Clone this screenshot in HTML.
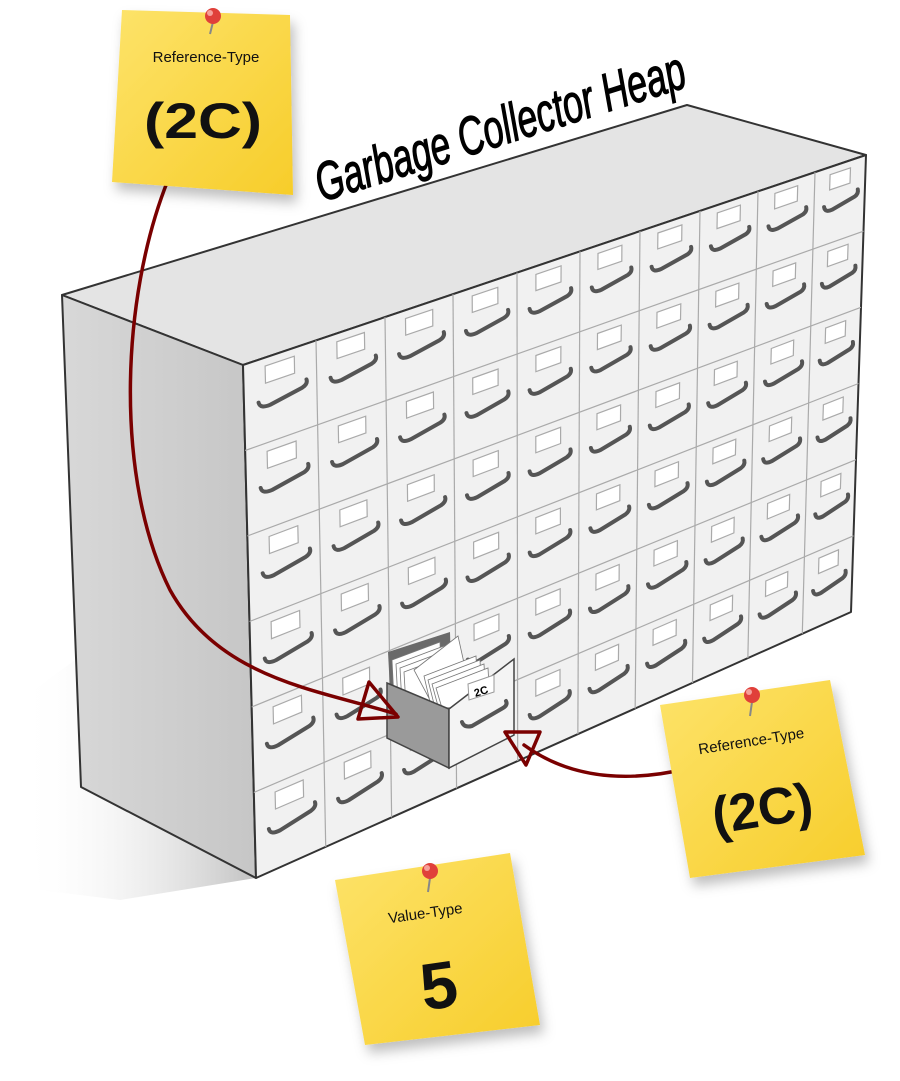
<!DOCTYPE html>
<html><head><meta charset="utf-8"><style>
html,body{margin:0;padding:0;background:#fff;}
svg{display:block;}
</style></head><body>
<svg id="s" width="900" height="1081" viewBox="0 0 900 1081" xmlns="http://www.w3.org/2000/svg">
<defs>
<linearGradient id="shadow" x1="1" y1="0" x2="0" y2="0">
<stop offset="0" stop-color="#bbb"/><stop offset="1" stop-color="#fff" stop-opacity="0"/>
</linearGradient>
<linearGradient id="note" x1="0" y1="0" x2="1" y2="1">
<stop offset="0" stop-color="#fde36a"/><stop offset="1" stop-color="#f7cd2a"/>
</linearGradient>
<linearGradient id="side" x1="0" y1="0" x2="1" y2="0">
<stop offset="0" stop-color="#d8d8d8"/><stop offset="1" stop-color="#c6c6c6"/>
</linearGradient>
<filter id="ns" x="-20%" y="-20%" width="150%" height="150%"><feDropShadow dx="4" dy="8" stdDeviation="6" flood-color="#000" flood-opacity="0.25"/></filter>
</defs>
<polygon points="20,700 75,660 256,878 120,900 40,890" fill="url(#shadow)" opacity="0.9"/>
<polygon points="62,295 687,105 866,155 243,365" fill="#e4e4e4" stroke="#333" stroke-width="2" stroke-linejoin="round"/>
<polygon points="62,295 243,365 256,878 81,787" fill="url(#side)" stroke="#333" stroke-width="2" stroke-linejoin="round"/>
<polygon points="243,365 866,155 851,612 256,878" fill="#f1f1f1" stroke="#333" stroke-width="2" stroke-linejoin="round"/>
<g id="grid"></g>
<polygon points="388,652 450,632 452,700 390,690" fill="#6a6a6a"/>
<g fill="#fff" stroke="#777" stroke-width="0.8">
<polygon points="392,660 440,642 442,700 394,700"/>
<polygon points="396,664 444,646 446,702 398,702"/>
<polygon points="400,668 448,650 449,704 402,704"/>
<polygon points="404,672 452,654 452,706 406,706"/>
<polygon points="414,670 458,636 466,672 430,700"/>
<polygon points="424,676 476,656 478,700 430,702"/>
<polygon points="428,680 480,660 482,702 434,704"/>
<polygon points="432,684 484,664 486,704 438,706"/>
<polygon points="436,688 488,668 490,706 442,708"/>
</g>
<polygon points="387,683 449,709 449,768 387,738" fill="#9a9a9a" stroke="#444" stroke-width="1.5"/>
<polygon points="449,709 514,659 514,735 449,768" fill="#f4f4f4" stroke="#444" stroke-width="1.5"/>
<polygon points="468,684 494,675 494,692 469,700" fill="#fff" stroke="#999"/>
<text x="481" y="695" font-family="Liberation Sans, sans-serif" font-weight="bold" font-size="11" text-anchor="middle" transform="rotate(-18 481 691)">2C</text>
<path d="M462,722 Q464,728 472,726 L503,708 Q508,705 506,701" fill="none" stroke="#555" stroke-width="4" stroke-linecap="round"/>
<text x="0" y="0" font-family="Liberation Sans, sans-serif" font-style="italic" font-size="54" stroke="#000" stroke-width="1.2" transform="translate(322,202) rotate(-17.5)" textLength="385" lengthAdjust="spacingAndGlyphs">Garbage Collector Heap</text>
<g fill="none" stroke="#7a0000" stroke-width="3.5" stroke-linejoin="round" stroke-linecap="round">
<path d="M168,180 C120,300 115,480 170,590 C220,680 320,690 396,714"/>
<polygon points="369,682 398,717 358,719"/>
<path d="M690,768 C620,785 565,775 524,745"/>
<polygon points="505,732 540,732 526,765"/>
</g>
<g filter="url(#ns)">
<polygon points="122,10 290,15 293,195 112,182" fill="url(#note)"/>
<polygon points="660,705 830,680 865,855 690,878" fill="url(#note)"/>
<polygon points="335,880 510,853 540,1025 365,1045" fill="url(#note)"/>
</g>
<g font-family="Liberation Sans, sans-serif" fill="#111">
<text x="206" y="62" font-size="15" text-anchor="middle">Reference-Type</text>
<text x="203" y="138" font-size="50" text-anchor="middle" font-weight="bold" textLength="118" lengthAdjust="spacingAndGlyphs">(2C)</text>
<text x="0" y="0" font-size="15" text-anchor="middle" transform="translate(752,746) rotate(-9)">Reference-Type</text>
<text x="0" y="0" font-size="52" font-weight="bold" text-anchor="middle" transform="translate(765,826) rotate(-9)">(2C)</text>
<text x="0" y="0" font-size="15" text-anchor="middle" transform="translate(426,918) rotate(-8)">Value-Type</text>
<text x="0" y="0" font-size="66" font-weight="bold" text-anchor="middle" transform="translate(442,1008) rotate(-8)">5</text>
</g>
<g>
<line x1="213" y1="22" x2="210" y2="34" stroke="#888" stroke-width="2"/>
<circle cx="213" cy="16" r="8" fill="#e0403a"/><circle cx="210" cy="13" r="3" fill="#f5a09a"/>
<line x1="752" y1="702" x2="750" y2="716" stroke="#888" stroke-width="2"/>
<circle cx="752" cy="695" r="8" fill="#e0403a"/><circle cx="749" cy="692" r="3" fill="#f5a09a"/>
<line x1="430" y1="878" x2="428" y2="892" stroke="#888" stroke-width="2"/>
<circle cx="430" cy="871" r="8" fill="#e0403a"/><circle cx="427" cy="868" r="3" fill="#f5a09a"/>
</g>
</svg>
<script>
(function(){
var TL=[243,365],TR=[866,155],BL=[256,878],BR=[851,612];
var xs=[243,316,385,453,517,580,640,700,758,815,866];
var us=xs.map(function(x){return (x-243)/623;});
function P(u,v){var t=[TL[0]+(TR[0]-TL[0])*u,TL[1]+(TR[1]-TL[1])*u];var b=[BL[0]+(BR[0]-BL[0])*u,BL[1]+(BR[1]-BL[1])*u];return [t[0]+(b[0]-t[0])*v,t[1]+(b[1]-t[1])*v];}
var g=document.getElementById('grid'),h='';
function s(p){return p[0].toFixed(1)+','+p[1].toFixed(1);}
for(var i=1;i<10;i++){h+='<line x1="'+P(us[i],0)[0]+'" y1="'+P(us[i],0)[1]+'" x2="'+P(us[i],1)[0]+'" y2="'+P(us[i],1)[1]+'" stroke="#aaa" stroke-width="1.2"/>';}
for(var r=1;r<6;r++){var a=P(0,r/6),b=P(1,r/6);h+='<line x1="'+a[0]+'" y1="'+a[1]+'" x2="'+b[0]+'" y2="'+b[1]+'" stroke="#aaa" stroke-width="1.2"/>';}
for(var c=0;c<10;c++)for(var r=0;r<6;r++){
 if(c==2&&r==4)continue;
 var u0=us[c],u1=us[c+1],v0=r/6,v1=(r+1)/6;
 function L(a,b){return P(u0+(u1-u0)*a,v0+(v1-v0)*b);}
 h+='<polygon points="'+s(L(0.3,0.1))+' '+s(L(0.7,0.1))+' '+s(L(0.7,0.3))+' '+s(L(0.3,0.3))+'" fill="#fff" stroke="#aaa" stroke-width="1.2"/>';
 h+='<path d="M'+s(L(0.2,0.5))+' Q'+s(L(0.22,0.58))+' '+s(L(0.36,0.57))+' L'+s(L(0.8,0.5))+' Q'+s(L(0.88,0.48))+' '+s(L(0.86,0.42))+'" fill="none" stroke="#555" stroke-width="4" stroke-linecap="round"/>';
}
g.innerHTML=h;
})();
</script>
</body></html>
